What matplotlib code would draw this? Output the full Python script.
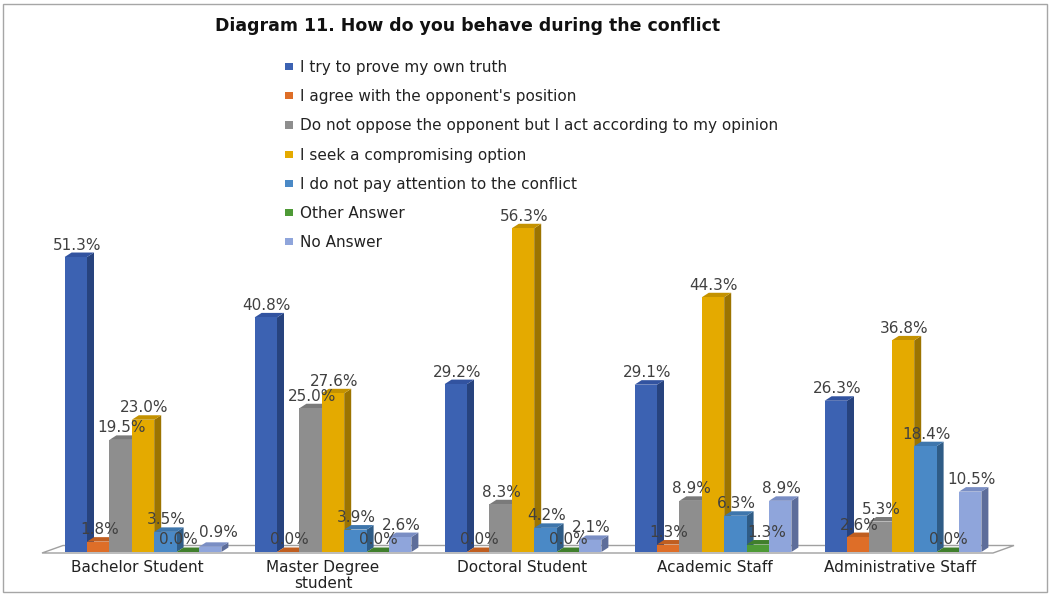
import matplotlib
matplotlib.use("Agg")
import matplotlib.pyplot as plt
from matplotlib.patches import Polygon, Rectangle, Patch
import numpy as np

plt.rcParams['font.family'] = ['DejaVu Sans']

title = "Diagram 11. How do you behave during the conflict"
categories = ["Bachelor Student", "Master Degree\nstudent", "Doctoral Student",
              "Academic Staff", "Administrative Staff"]
series_names = ["I try to prove my own truth",
                "I agree with the opponent's position",
                "Do not oppose the opponent but I act according to my opinion",
                "I seek a compromising option",
                "I do not pay attention to the conflict",
                "Other Answer",
                "No Answer"]
prove_own_truth = [51.3, 40.8, 29.2, 29.1, 26.3]
agree_opponent = [1.8, 0.0, 0.0, 1.3, 2.6]
not_oppose = [19.5, 25.0, 8.3, 8.9, 5.3]
compromise = [23.0, 27.6, 56.3, 44.3, 36.8]
no_attention = [3.5, 3.9, 4.2, 6.3, 18.4]
other_answer = [0.0, 0.0, 0.0, 1.3, 0.0]
no_answer = [0.9, 2.6, 2.1, 8.9, 10.5]
series = [prove_own_truth, agree_opponent, not_oppose, compromise,
          no_attention, other_answer, no_answer]

front_colors = ["#3C62B2", "#DE6E28", "#8E8E8E", "#E4AA00", "#4A89C6", "#4E9A36", "#8FA5DB"]
side_colors = ["#27437E", "#9E4C18", "#5E5E5E", "#9C7400", "#2F5C86", "#2F6420", "#5D6D9A"]
top_colors = ["#3253A0", "#C05E20", "#7A7A7A", "#C49200", "#3E76AC", "#407F2C", "#7A8EC4"]

W, H = 1054, 596
fig = plt.figure(figsize=(W / 100, H / 100), dpi=100)

# outer frame
fig.patches.append(Rectangle((3 / W, 4 / H), (1047 - 3) / W, (592 - 4) / H,
                             transform=fig.transFigure, fill=False,
                             edgecolor="#A6A6A6", lw=1.0))

fig.text(468 / W, 1 - 26 / H, title, ha="center", va="center",
         fontsize=12.5, fontweight="bold", color="#111111")

# plot axes: y=0 at pixel 552, 5.75 px per percent
px_per_unit = 5.75
grp_px = 190.0
bottom_px = 552
ax_bottom = 1 - bottom_px / H
ymax = 60
ax_h = ymax * px_per_unit / H
x0_px = 143.0
ax = fig.add_axes([0, ax_bottom, 1, ax_h])
ax.set_xlim(-x0_px / grp_px, (W - x0_px) / grp_px)
ax.set_ylim(0, ymax)
ax.axis("off")
ax.set_clip_on(False)

bw = 22.4 / grp_px
dx = 7.0 / grp_px
dy = 4.5 / px_per_unit

# floor
fl_front = -1.0 / px_per_unit
fl_back = 6.5 / px_per_unit
fl_dx = 21.0 / grp_px
xl = (42 - x0_px) / grp_px
xr = (993 - x0_px) / grp_px
floor = Polygon([(xl, fl_front), (xr, fl_front), (xr + fl_dx, fl_back), (xl + fl_dx, fl_back)],
                closed=True, facecolor="white", edgecolor="#A0A0A0", lw=1.0,
                zorder=1, clip_on=False)
ax.add_patch(floor)

n = len(series)
xs = np.arange(len(categories))
z = 2
for j, vals in enumerate(series):
    lefts = xs + (j - n / 2) * bw
    ax.bar(lefts, vals, width=bw, align="edge", color=front_colors[j],
           edgecolor="none", zorder=z + 2, clip_on=False)
    for i, v in enumerate(vals):
        l = lefts[i]
        r = l + bw
        side = Polygon([(r, 0), (r + dx, dy), (r + dx, v + dy), (r, v)], closed=True,
                       facecolor=side_colors[j], edgecolor="none", zorder=z, clip_on=False)
        top = Polygon([(l, v), (r, v), (r + dx, v + dy), (l + dx, v + dy)], closed=True,
                      facecolor=top_colors[j], edgecolor="none", zorder=z + 1, clip_on=False)
        ax.add_patch(side)
        ax.add_patch(top)
    z += 3

# data labels (pixel nudges for a few labels, as placed in the original)
nudge = {(5, 0): (-9, 12), (6, 0): (8, 14), (5, 3): (9, 12)}
for j, vals in enumerate(series):
    lefts = xs + (j - n / 2) * bw
    for i, v in enumerate(vals):
        off = nudge.get((j, i), (1, 12))
        ax.annotate(f"{v:.1f}%", (lefts[i] + bw / 2, v),
                    xytext=off, textcoords="offset pixels",
                    ha="center", va="center", fontsize=11, color="#404040",
                    zorder=100, annotation_clip=False)

# category labels
cat_px = [137, 323, 522, 715, 900]
for i, c in enumerate(categories):
    ax.annotate(c, ((cat_px[i] - x0_px) / grp_px, 0), xytext=(0, -8),
                textcoords="offset pixels", ha="center", va="top",
                fontsize=11, color="#222222", linespacing=1.05,
                annotation_clip=False)

handles = [Patch(facecolor=front_colors[j], edgecolor="none") for j in range(n)]
fig.legend(handles, series_names, loc="upper left",
           bbox_to_anchor=(285 / W, 1 - 60 / H), frameon=False,
           fontsize=11, labelcolor="#222222", borderpad=0, borderaxespad=0,
           handlelength=0.55, handleheight=0.35, handletextpad=0.4,
           labelspacing=0.93)

fig.savefig("out.png", dpi=100)
